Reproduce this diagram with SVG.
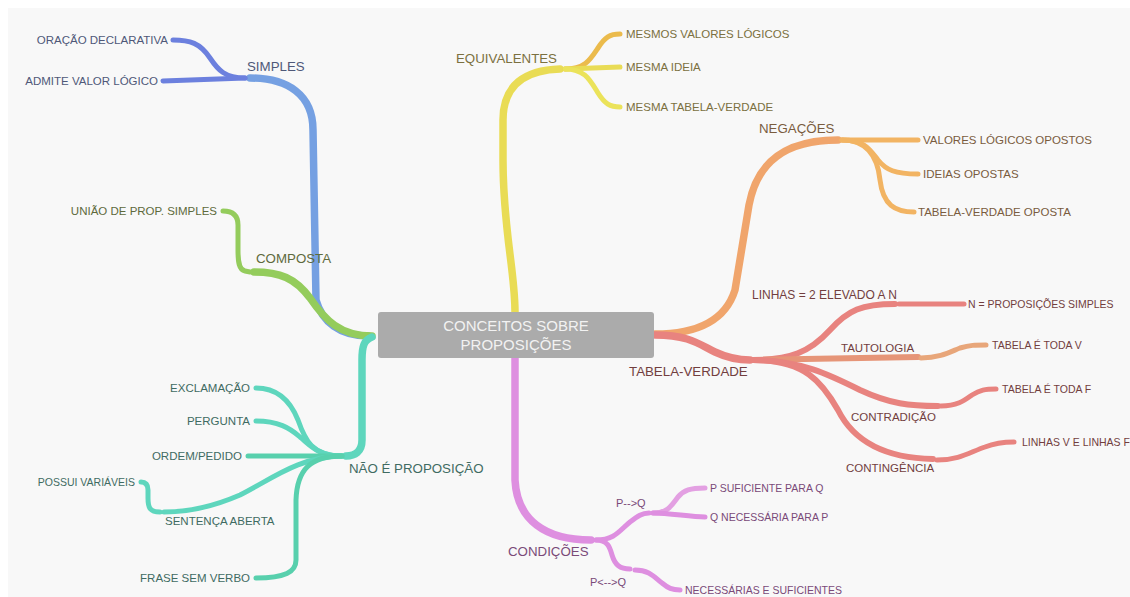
<svg xmlns="http://www.w3.org/2000/svg" width="1130" height="597" viewBox="0 0 1130 597">
<style>
text{font-family:"Liberation Sans",Arial,sans-serif}
.l{font-size:11.5px}
.s{font-size:10.5px}
.m{font-size:13.3px}
.e{text-anchor:end}
path{fill:none;stroke-linecap:round;stroke-linejoin:round}
.w1{stroke-width:7.5}
.w2{stroke-width:6}
.w3{stroke-width:5}
.blue{stroke:#75a0e2}.blue2{stroke:#6c80de}
.green{stroke:#94cc5c}
.teal{stroke:#5ed6bd}.teal2{stroke:#58d0ad}
.yel{stroke:#e9dc55}.yelo{stroke:#ebbb4c}.yel2{stroke:#ebe35a}
.ora{stroke:#f0a56c}.ora2{stroke:#f2b463}
.red{stroke:#e8837f}.red2{stroke:#e69578}.redo{stroke:#e8a67a}
.pink{stroke:#de8fe0}.pink2{stroke:#e3a0e2}
.tb{fill:#4f5878}.tg{fill:#5e6a3c}.tt{fill:#3f6b62}.ty{fill:#7b7040}.to{fill:#7a5c3e}.tr{fill:#723e3e}.tp{fill:#7a4a78}
</style>
<rect x="0" y="0" width="1130" height="597" fill="#ffffff"/>
<rect x="8" y="8" width="1122" height="589" fill="#f8f8f8"/>
<g id="connectors">
<path class="blue w1" d="M 368 336 C 340 336, 322 322, 316 300 L 313 130 C 313 95, 288 78, 250 78"/>
<path class="blue2 w3" d="M 245 78 C 225 78, 218 70, 210 58 C 200 43, 190 40, 173 40"/>
<path class="blue2 w3" d="M 245 78 L 163 81"/>
<path class="green w1" d="M 372 336 C 340 336, 325 320, 310 298 C 295 278, 280 272, 254 272"/>
<path class="green w3" d="M 250 272 L 245 271 C 239 270, 238 262, 238 250 L 238 225 C 238 215, 232 211, 223 211"/>
<path class="teal w1" d="M 372 337 C 364 340, 362 346, 362 360 L 362 440 C 362 452, 355 456, 346 456"/>
<path class="teal w3" d="M 342 456 C 312 456, 305 440, 298 420 C 290 400, 277 388, 256 388"/>
<path class="teal w3" d="M 342 456 C 318 456, 310 445, 300 437 C 290 428, 278 421, 256 421"/>
<path class="teal2 w3" d="M 342 456 L 248 456"/>
<path class="teal w3" d="M 342 456 C 300 456, 270 480, 240 495 C 210 508, 185 512, 164 512"/>
<path class="teal w3" d="M 160 512 C 150 512, 148 508, 148 498 L 148 490 C 148 484, 145 482, 141 482"/>
<path class="teal2 w3" d="M 342 456 C 310 456, 297 470, 296 500 L 296 560 C 296 572, 285 578, 256 578"/>
<path class="yel w1" d="M 515 312 C 515 270, 503 230, 503 160 L 503 120 C 503 85, 525 70, 560 69"/>
<path class="yelo w3" d="M 565 69 C 585 69, 590 60, 598 48 C 605 37, 610 34, 620 34"/>
<path class="yel w3" d="M 565 69 L 620 67"/>
<path class="yel2 w3" d="M 565 69 C 585 69, 590 80, 598 93 C 605 104, 610 107, 620 107"/>
<path class="ora w1" d="M 655 334 C 695 334, 725 322, 735 290 L 749 205 C 757 162, 785 140, 838 140"/>
<path class="ora2 w3" d="M 842 140 L 918 140"/>
<path class="ora2 w3" d="M 842 140 C 865 140, 870 150, 878 160 C 886 170, 895 174, 918 174"/>
<path class="ora2 w3" d="M 842 140 C 870 140, 878 160, 880 180 C 883 205, 895 212, 914 212"/>
<path class="red w1" d="M 655 335 C 690 335, 700 345, 715 352 C 730 359, 740 360, 750 360"/>
<path class="red w2" d="M 753 360 C 790 360, 810 352, 830 330 C 848 310, 862 304, 895 304"/>
<path class="red w3" d="M 899 304 L 964 304"/>
<path class="red2 w2" d="M 753 360 L 918 357"/>
<path class="redo w3" d="M 921 358 C 940 358, 950 352, 960 348 C 970 345, 975 345, 986 345"/>
<path class="red w2" d="M 753 360 C 800 360, 830 375, 860 390 C 890 404, 910 406, 938 406"/>
<path class="red w3" d="M 941 406 C 958 406, 965 400, 972 395 C 980 390, 985 389, 996 389"/>
<path class="red w2" d="M 753 360 C 805 360, 822 382, 838 410 C 852 438, 880 458, 933 459"/>
<path class="red w3" d="M 937 460 C 960 460, 970 452, 985 447 C 995 443, 1005 442, 1014 442"/>
<path class="pink w1" d="M 515 358 L 515 480 C 517 520, 545 540, 591 540"/>
<path class="pink w3" d="M 596 540 C 615 540, 620 530, 630 522 C 638 516, 642 513, 649 513"/>
<path class="pink2 w3" d="M 653 513 C 668 513, 672 505, 678 497 C 684 490, 690 488, 705 488"/>
<path class="pink w3" d="M 653 513 C 670 513, 690 517, 705 517"/>
<path class="pink w3" d="M 596 540 C 608 540, 610 548, 612 555 C 615 565, 620 569, 630 569"/>
<path class="pink w3" d="M 635 570 C 650 570, 655 578, 662 583 C 668 588, 672 590, 680 590"/>
</g>
<g id="center">
<rect x="378" y="312" width="276" height="46" rx="3" fill="#ababab"/>
<path d="M 378 330 L 373 335 L 378 340 Z M 510 312 L 515 307 L 520 312 Z M 654 330 L 659 335 L 654 340 Z M 510 358 L 515 363 L 520 358 Z" fill="#ababab" stroke="none"/>
<text x="516" y="331" font-size="15" fill="#f2f2f2" text-anchor="middle">CONCEITOS SOBRE</text>
<text x="516" y="350" font-size="15" fill="#f2f2f2" text-anchor="middle">PROPOSIÇÕES</text>
</g>
<g id="simples"><text class="m tb" x="247" y="71">SIMPLES</text></g>
<g id="oracao"><text class="l tb e" x="168" y="44">ORAÇÃO DECLARATIVA</text></g>
<g id="admite"><text class="l tb e" x="158" y="85">ADMITE VALOR LÓGICO</text></g>
<g id="composta"><text class="m tg" x="256" y="263">COMPOSTA</text></g>
<g id="uniao"><text class="l tg e" x="217" y="215">UNIÃO DE PROP. SIMPLES</text></g>
<g id="naoe"><text class="m tt" x="349" y="473">NÃO É PROPOSIÇÃO</text></g>
<g id="exclamacao"><text class="l tt e" x="250" y="392">EXCLAMAÇÃO</text></g>
<g id="pergunta"><text class="l tt e" x="250" y="425">PERGUNTA</text></g>
<g id="ordem"><text class="l tt e" x="242" y="460">ORDEM/PEDIDO</text></g>
<g id="sentenca"><text class="l tt" x="165" y="525">SENTENÇA ABERTA</text></g>
<g id="possui"><text class="s tt e" x="135" y="486">POSSUI VARIÁVEIS</text></g>
<g id="frase"><text class="l tt e" x="250" y="582">FRASE SEM VERBO</text></g>
<g id="equivalentes"><text class="m ty" x="456" y="63">EQUIVALENTES</text></g>
<g id="mesmos"><text class="l ty" x="626" y="38">MESMOS VALORES LÓGICOS</text></g>
<g id="mesmaideia"><text class="l ty" x="626" y="71">MESMA IDEIA</text></g>
<g id="mesmatabela"><text class="l ty" x="626" y="111">MESMA TABELA-VERDADE</text></g>
<g id="negacoes"><text class="m to" x="759" y="133">NEGAÇÕES</text></g>
<g id="valores"><text class="l to" x="923" y="144">VALORES LÓGICOS OPOSTOS</text></g>
<g id="ideias"><text class="l to" x="923" y="178">IDEIAS OPOSTAS</text></g>
<g id="tabelaoposta"><text class="l to" x="918" y="216">TABELA-VERDADE OPOSTA</text></g>
<g id="tabelaverdade"><text class="m tr" x="629" y="376">TABELA-VERDADE</text></g>
<g id="linhas"><text class="tr" font-size="12" x="752" y="299">LINHAS = 2 ELEVADO A N</text></g>
<g id="nprop"><text class="s tr" x="968" y="308">N = PROPOSIÇÕES SIMPLES</text></g>
<g id="tautologia"><text class="l tr" x="841" y="352">TAUTOLOGIA</text></g>
<g id="todav"><text class="s tr" x="992" y="349">TABELA É TODA V</text></g>
<g id="contradicao"><text class="l tr" x="851" y="421">CONTRADIÇÃO</text></g>
<g id="todaf"><text class="s tr" x="1002" y="393">TABELA É TODA F</text></g>
<g id="contingencia"><text class="l tr" x="846" y="472">CONTINGÊNCIA</text></g>
<g id="linhasvf"><text class="s tr" x="1022" y="446">LINHAS V E LINHAS F</text></g>
<g id="condicoes"><text class="m tp" x="508" y="556">CONDIÇÕES</text></g>
<g id="pq"><text class="tp" font-size="11" x="616" y="507">P--&gt;Q</text></g>
<g id="psuf"><text class="s tp" x="710" y="492">P SUFICIENTE PARA Q</text></g>
<g id="qnec"><text class="s tp" x="710" y="521">Q NECESSÁRIA PARA P</text></g>
<g id="pbi"><text class="tp" font-size="11" x="590" y="586">P&lt;--&gt;Q</text></g>
<g id="necsuf"><text class="s tp" x="685" y="594">NECESSÁRIAS E SUFICIENTES</text></g>
</svg>
